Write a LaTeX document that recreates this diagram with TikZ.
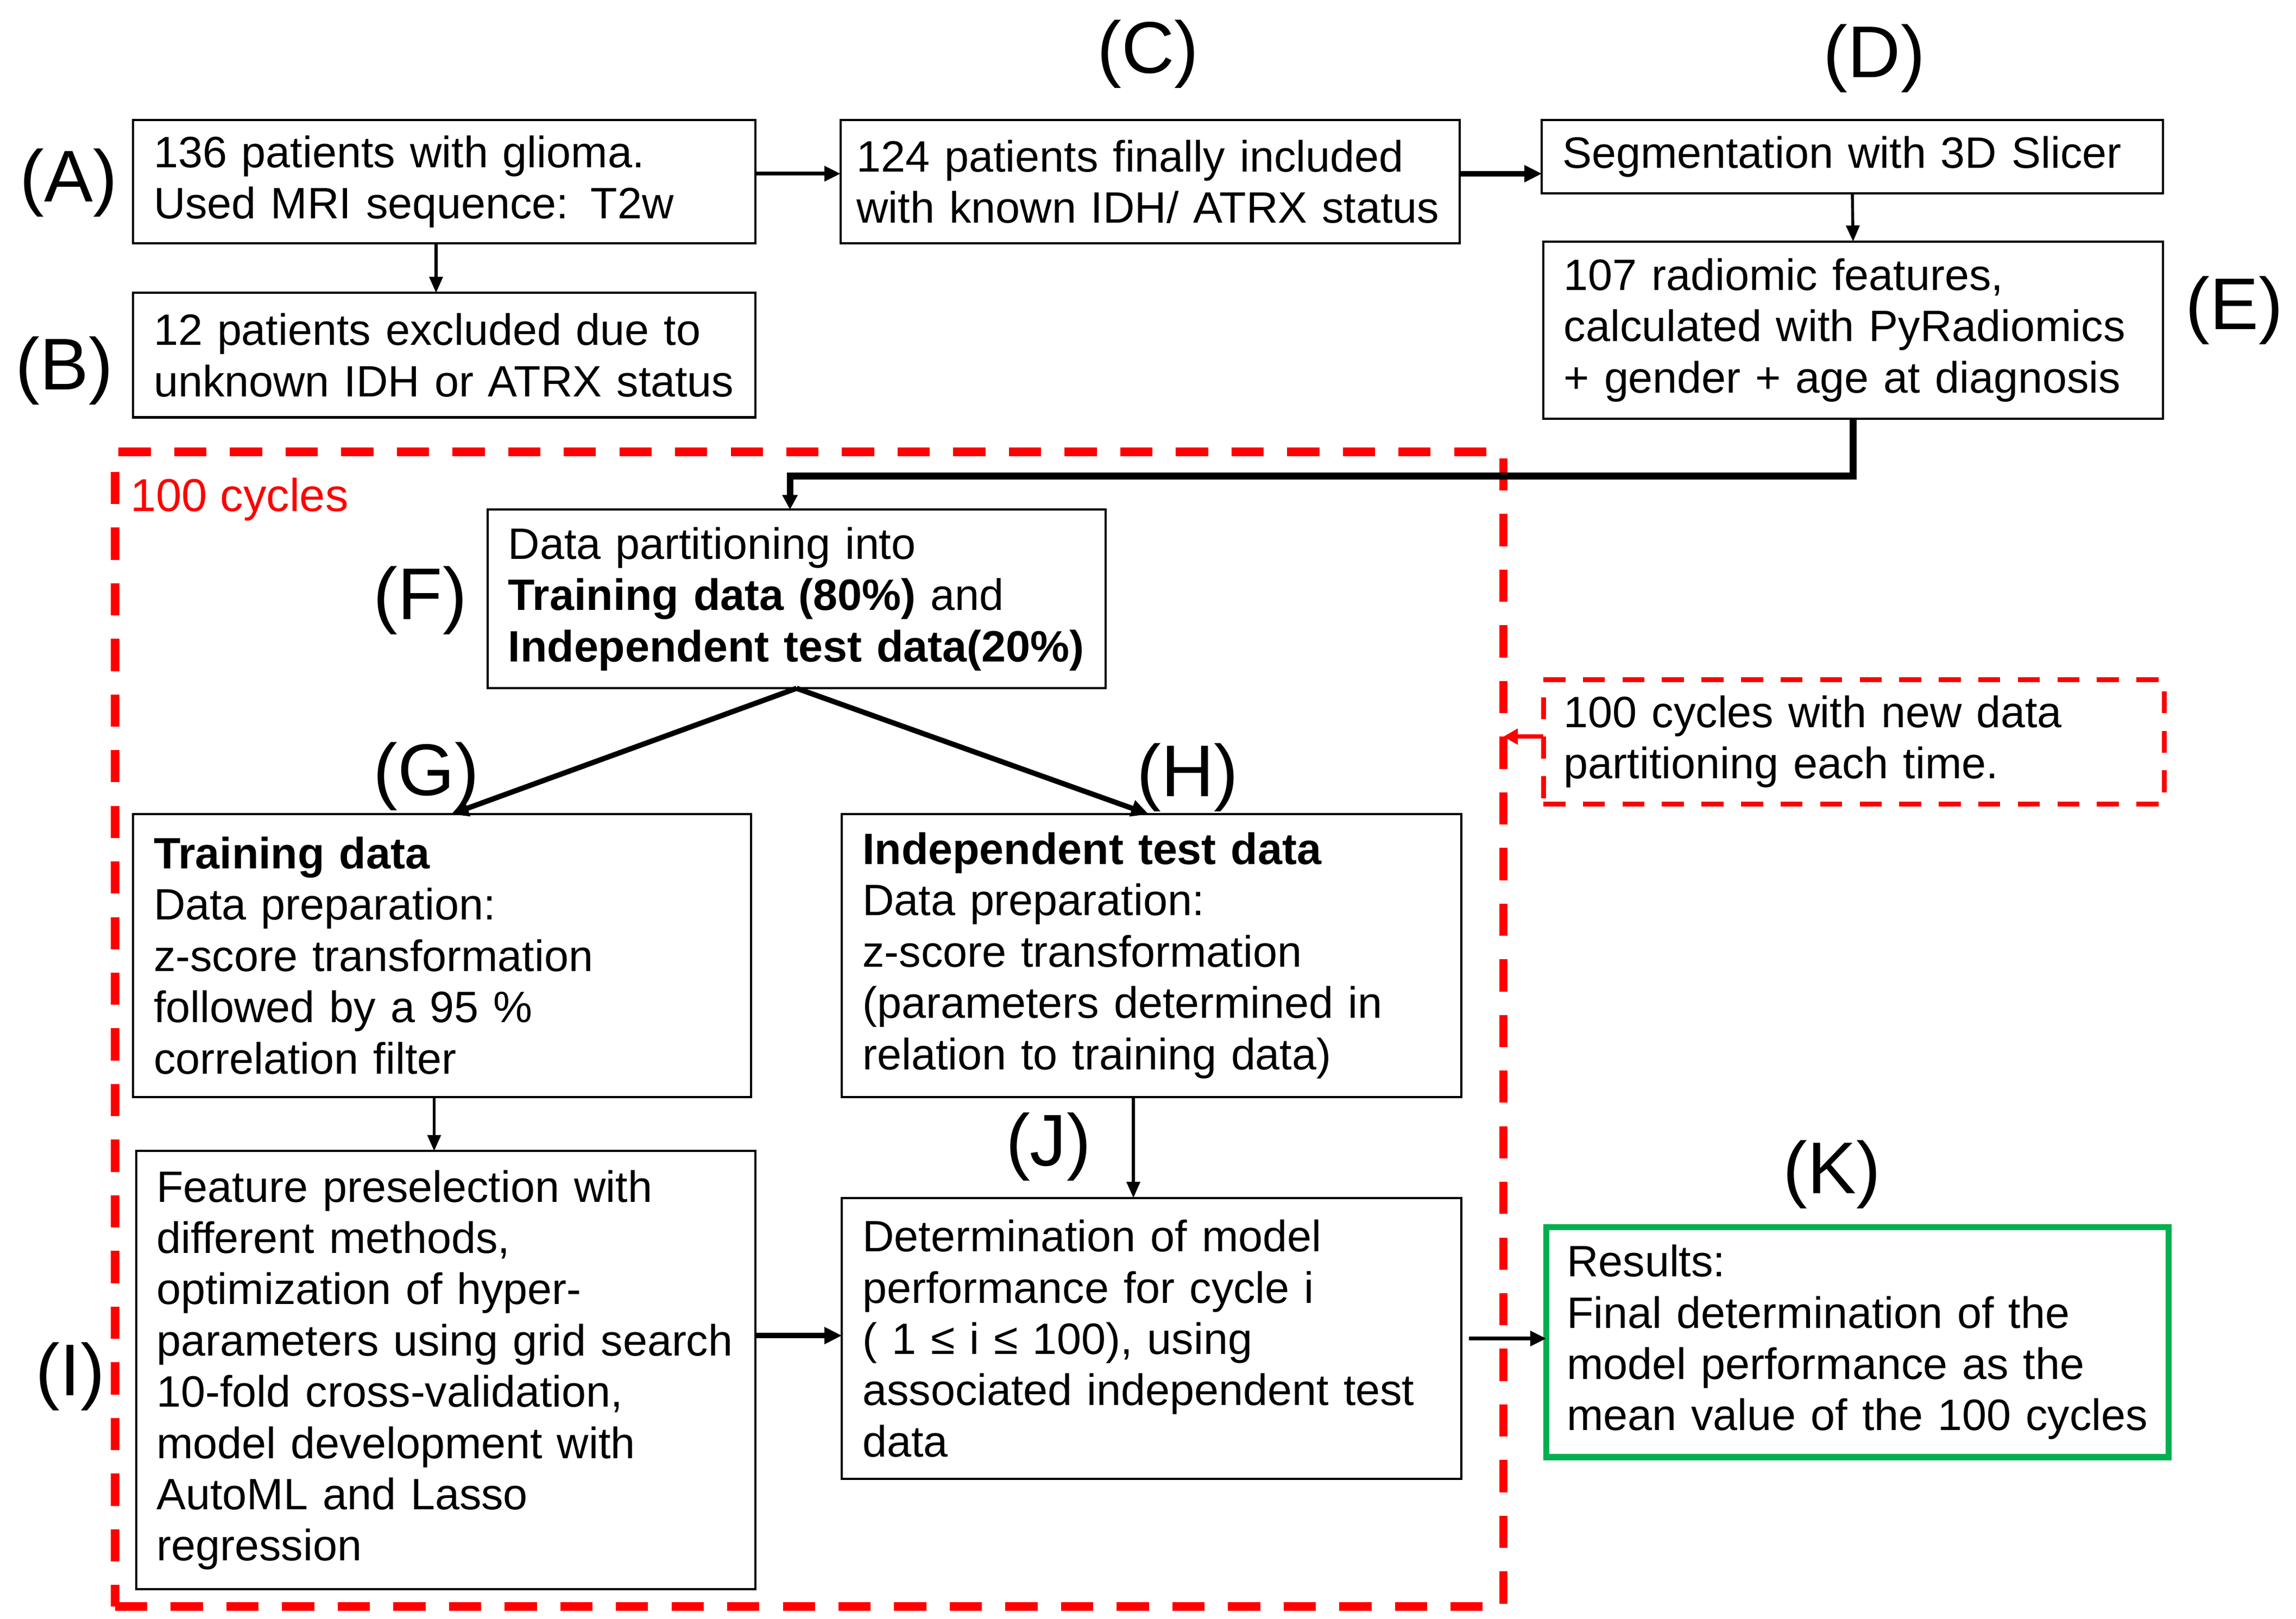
\documentclass[tikz,border=0pt]{standalone}
\usepackage{fontspec}
\setmainfont{Liberation Sans}
\usetikzlibrary{arrows.meta}
\definecolor{dred}{RGB}{255,0,0}
\definecolor{kgreen}{RGB}{0,176,80}
\hyphenpenalty=10000
\exhyphenpenalty=10000
\begin{document}
\begin{tikzpicture}[x=1bp,y=-1bp,
  box/.style={draw=black, line width=1.5bp, inner xsep=14bp, inner ysep=0bp, outer sep=0pt,
    align=left, anchor=north west, font=\fontsize{30bp}{35bp}\selectfont},
  lab/.style={inner sep=0pt, font=\fontsize{50bp}{60bp}\selectfont},
  arrthin/.style={line width=2bp, -{Triangle[length=11bp,width=9bp]}},
  arrmid/.style={line width=2.6bp, -{Triangle[length=11bp,width=10bp]}},
  arrthick/.style={line width=3.5bp, -{Triangle[length=12bp,width=11bp]}},
  arrdiag/.style={line width=3.6bp, -{Triangle[length=12bp,width=11bp]}},
  arrfeed/.style={line width=4.6bp, -{Triangle[length=10bp,width=10bp]}},
  arrred/.style={draw=dred, line width=3bp, -{Triangle[length=10bp,width=10.5bp]}, dred},
]
\useasboundingbox (0,0) rectangle (1568,1105.5);

% big loop box
\node[draw=dred, line width=5.7bp, dash pattern=on 22bp off 16bp, minimum width=948bp,
  minimum height=788.4bp, inner sep=0pt, outer sep=0pt, anchor=north west] (loop) at (78.6,308.6) {};
\node[anchor=base west, inner sep=0pt, text=dred, font=\fontsize{31.5bp}{36bp}\selectfont] (cyc) at (89,349) {100 cycles};

% boxes
\node[box, text width=397bp, minimum height=84bp] (A) at (91,82) {136 patients with glioma.\\Used MRI sequence: T2w};
\node[box, text width=397bp, minimum height=85bp] (B) at (91,200) {12 patients excluded due to\\unknown IDH or ATRX status};
\node[box, inner xsep=11bp, text width=401bp, minimum height=84bp] (C) at (574,82) {124 patients finally included\\with known IDH/ ATRX status};
\node[box, text width=396bp, minimum height=50bp] (D) at (1053,82) {Segmentation with 3D Slicer};
\node[box, text width=395bp, minimum height=121bp] (E) at (1054,165) {107 radiomic features,\\calculated with PyRadiomics\\+ gender + age at diagnosis};
\node[box, text width=394bp, minimum height=122bp] (F) at (333,348) {Data partitioning into\\\textbf{Training data (80\%)} and\\\textbf{Independent test data(20\%)}};
\node[box, text width=394bp, minimum height=193bp] (G) at (91,556) {\textbf{Training data}\\Data preparation:\\z-score transformation\\followed by a 95 \%\\correlation filter};
\node[box, text width=395bp, minimum height=193bp] (H) at (575,556) {\textbf{Independent test data}\\Data preparation:\\z-score transformation\\(parameters determined in\\relation to training data)};
\node[box, text width=395bp, minimum height=299bp] (I) at (93,786) {Feature preselection with\\different methods,\\optimization of hyper-\\parameters using grid search\\10-fold cross-validation,\\model development with\\AutoML and Lasso\\regression};
\node[box, text width=395bp, minimum height=192bp] (J) at (575,818) {Determination of model\\performance for cycle i\\( 1 ≤ i ≤ 100), using\\associated independent test\\data};
\node[box, draw=kgreen, line width=4.3bp, text width=397bp, minimum height=157bp] (K) at (1056,838) {Results:\\Final determination of the\\model performance as the\\mean value of the 100 cycles};
\node[box, draw=dred, line width=3.3bp, dash pattern=on 15bp off 12bp, text width=396bp, minimum height=85bp] (S) at (1054,464) {100 cycles with new data\\partitioning each time.};

% labels
\node[lab] (lA) at (47,125) {(A)};
\node[lab] (lB) at (44,253) {(B)};
\node[lab] (lC) at (784,37) {(C)};
\node[lab] (lD) at (1280,40) {(D)};
\node[lab] (lE) at (1526,212) {(E)};
\node[lab] (lF) at (287,410) {(F)};
\node[lab] (lG) at (291,530) {(G)};
\node[lab] (lH) at (811,531) {(H)};
\node[lab] (lI) at (48,940) {(I)};
\node[lab] (lJ) at (716,783) {(J)};
\node[lab] (lK) at (1251,802) {(K)};

% connectors
\draw[arrthin] (A.south -| 297.8,0) -- (B.north -| 297.8,0);
\draw[arrmid] (A.east |- 0,118.6) -- (C.west |- 0,118.6);
\draw[arrthick] (C.east |- 0,118.6) -- (D.west |- 0,118.6);
\draw[arrthin] (D.south) -- (E.north);
\coordinate (turn) at (539.5,325);
\draw[arrfeed] (E.south) |- (turn) -- (turn |- F.north);
\draw[arrdiag] (F.south) -- ([xshift=6bp]G.north);
\draw[arrdiag] (F.south) -- ([xshift=-2bp]H.north);
\draw[arrthin] (G.south -| 296.5,0) -- (I.north -| 296.5,0);
\draw[arrthin] (H.south -| 774,0) -- (J.north -| 774,0);
\draw[arrthick] (I.east |- 0,912) -- (J.west |- 0,912);
\draw[arrmid] ([xshift=5bp]J.east) -- (K.west |- J.east);
\draw[arrred] (S.west |- 0,503) -- (loop.east |- 0,503);
\end{tikzpicture}
\end{document}
